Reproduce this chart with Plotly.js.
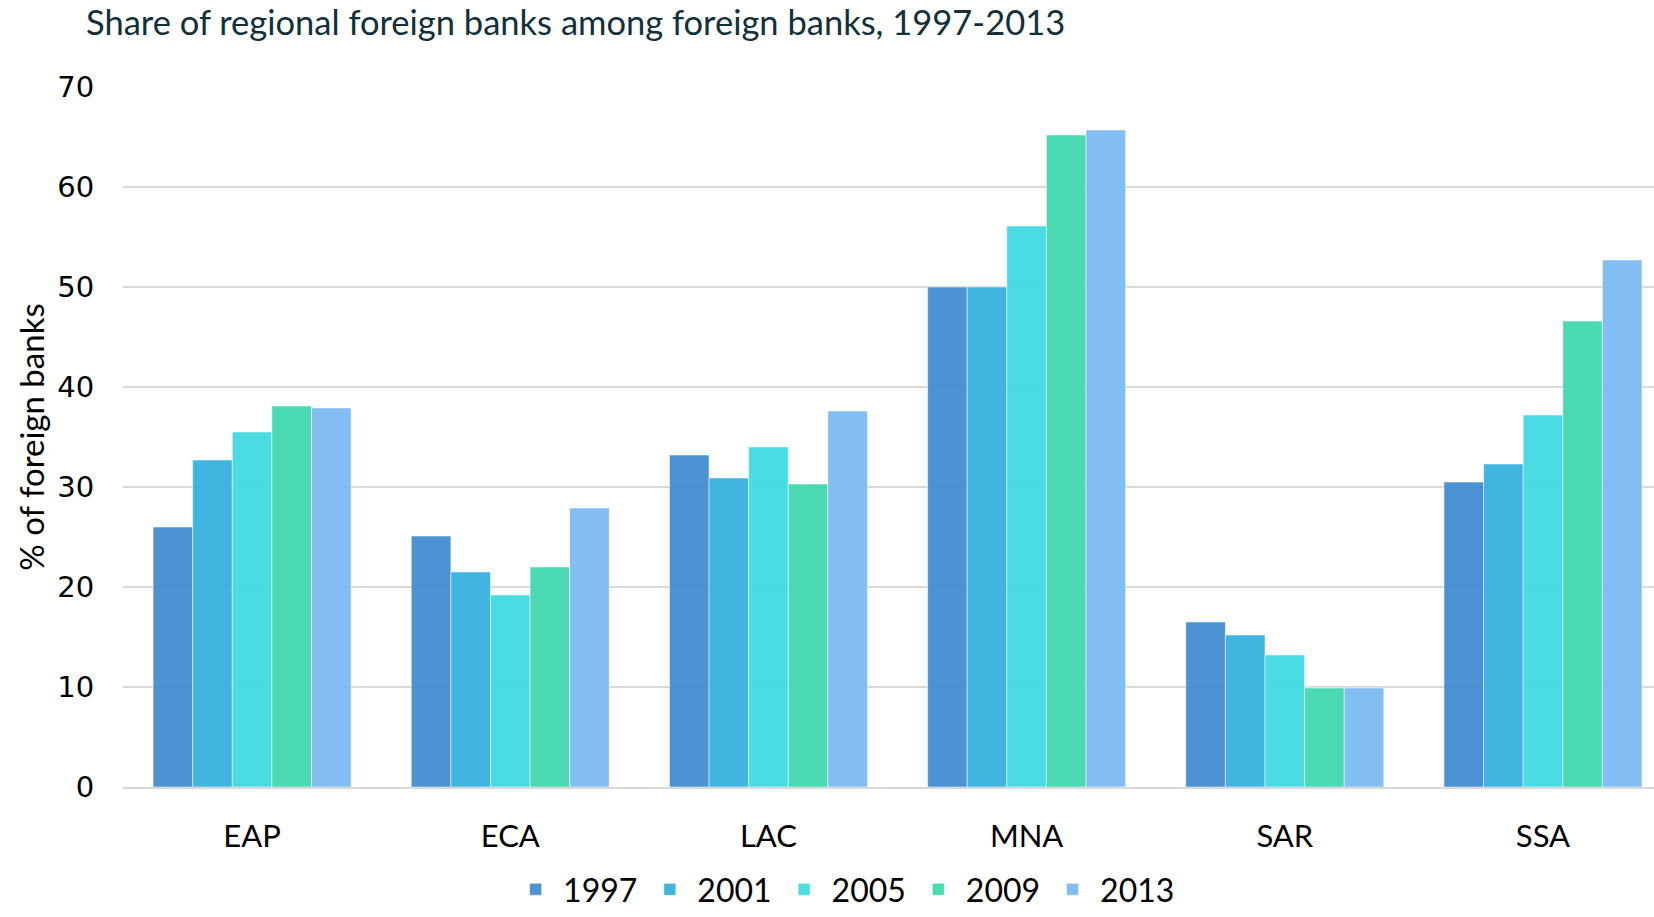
<!DOCTYPE html>
<html>
<head>
<meta charset="utf-8">
<script src="https://cdn.plot.ly/plotly-3.0.1.min.js"></script>
<style>html,body{margin:0;padding:0;background:#fff;}#chart{width:1654px;height:917px;}</style>
</head>
<body>
<div id="chart"></div>
<script>
const regions = ["EAP", "ECA", "LAC", "MNA", "SAR", "SSA"];
const years = ["1997", "2001", "2005", "2009", "2013"];
const v1997 = [26.0, 25.1, 33.2, 50.0, 16.5, 30.5];
const v2001 = [32.7, 21.5, 30.9, 50.0, 15.2, 32.3];
const v2005 = [35.5, 19.2, 34.0, 56.1, 13.2, 37.2];
const v2009 = [38.1, 22.0, 30.3, 65.2, 9.9, 46.6];
const v2013 = [37.9, 27.9, 37.6, 65.7, 9.9, 52.7];
const seriesValues = [v1997, v2001, v2005, v2009, v2013];
const colors = ["rgba(58,135,207,0.9)", "rgba(44,172,221,0.9)", "rgba(54,215,224,0.9)", "rgba(55,214,168,0.9)", "rgba(118,183,242,0.9)"];

const traces = years.map((y, i) => ({
  type: "bar",
  name: y,
  x: regions,
  y: seriesValues[i],
  marker: {color: colors[i], line: {color: "rgba(255,255,255,0.5)", width: 1}},
  hoverinfo: "x+y+name"
}));

const layout = {
  width: 1654, height: 917,
  margin: {l: 123, r: 0, t: 87, b: 130},
  paper_bgcolor: "#fff", plot_bgcolor: "#fff",
  barmode: "group",
  bargap: 0.233,
  bargroupgap: 0,
  font: {family: "Lato, 'Noto Sans', sans-serif", color: "#000"},
  title: {
    text: "Share of regional foreign banks among foreign banks, 1997-2013",
    font: {family: "Lato, 'Noto Sans', sans-serif", size: 34.5, color: "#12303a"},
    xref: "container", yref: "container", x: 0.052, xanchor: "left", y: 0.975, yanchor: "middle"
  },
  xaxis: {
    type: "category",
    range: [-0.5, 5.43],
    tickfont: {size: 31, color: "#000"},
    ticks: "outside", ticklen: 21, tickcolor: "rgba(0,0,0,0)",
    showline: true, linecolor: "#d9d9d9", linewidth: 2,
    showgrid: false, zeroline: false
  },
  yaxis: {
    range: [0, 70],
    dtick: 10,
    tickfont: {size: 29, color: "#000", family: "'DejaVu Sans', sans-serif"},
    ticks: "outside", ticklen: 22, tickcolor: "rgba(0,0,0,0)",
    showgrid: true, gridcolor: "#d9d9d9", gridwidth: 2,
    zeroline: false, showline: false,
    title: {text: "% of foreign banks", font: {size: 33, color: "#000"}, standoff: 2}
  },
  legend: {
    orientation: "h",
    xref: "paper", x: 0.471, xanchor: "center",
    yref: "container", y: 0, yanchor: "bottom",
    font: {size: 32, color: "#000"},
    itemwidth: 45,
    tracegroupgap: 0
  },
  showlegend: true
};

Plotly.newPlot("chart", traces, layout, {displayModeBar: false});
</script>
</body>
</html>
